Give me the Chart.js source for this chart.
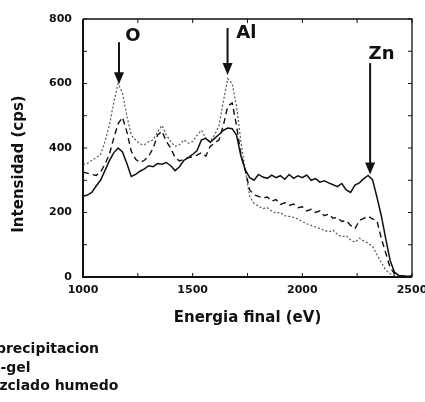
<!DOCTYPE html>
<html>
<head>
<meta charset="utf-8">
<script src="https://cdn.jsdelivr.net/npm/chart.js@4"></script>
<style>
  body { margin: 0; background: #fff; overflow: hidden; }
  #wrap { position: relative; width: 425px; height: 402px; }
  #leyenda { position: absolute; left: -58px; top: 339px; font: bold 14px 'DejaVu Sans'; line-height: 18.5px; color: #111; white-space: nowrap; }
  #leyenda span.muestra { display: inline-block; width: 28px; margin-right: 6px; vertical-align: middle; }
</style>
</head>
<body>
<div id="wrap">
  <canvas id="grafico" width="425" height="402"></canvas>
  <div id="leyenda"></div>
</div>
<script>
// energia final (eV)
const energias = [
  1000,1020,1040,1060,1080,1100,1120,1140,1160,1180,
  1200,1220,1240,1260,1280,1300,1320,1340,1360,1380,
  1400,1420,1440,1460,1480,1500,1520,1540,1560,1580,
  1600,1620,1640,1660,1680,1700,1720,1740,1760,1780,
  1800,1820,1840,1860,1880,1900,1920,1940,1960,1980,
  2000,2020,2040,2060,2080,2100,2120,2140,2160,2180,
  2200,2220,2240,2260,2280,2300,2320,2340,2360,2380,
  2400,2420,2440,2460,2480,2500
];

// intensidad (cps)
const coprecipitacion = [
  250,254,262,282,300,330,360,385,400,388,
  352,312,318,328,335,345,342,352,350,355,
  345,330,342,362,370,380,392,425,430,418,
  430,442,455,462,460,440,375,332,308,300,
  318,310,306,316,308,314,303,318,306,314,
  308,316,300,305,294,298,292,286,280,290,
  270,262,285,292,305,315,302,248,190,120,
  52,15,5,3,2,2
];
const solGel = [
  325,322,318,315,325,350,380,430,475,495,
  450,390,365,355,362,375,400,440,452,420,
  400,370,360,365,370,372,378,385,375,405,
  415,425,470,530,540,470,380,330,270,255,
  250,245,248,235,240,225,230,222,226,215,
  218,205,210,200,205,190,195,182,185,172,
  175,160,150,175,182,188,180,175,120,75,
  30,10,4,3,2,2
];
const mezcladoHumedo = [
  350,352,362,370,380,420,470,540,600,570,
  500,440,425,412,410,420,425,450,470,440,
  420,405,410,425,415,420,440,455,430,420,
  440,470,545,615,600,530,420,330,250,228,
  220,212,215,205,198,200,190,188,185,180,
  172,165,160,155,150,145,140,145,132,125,
  128,115,108,120,112,105,95,70,45,22,
  10,5,3,2,2,2
];

const ticksX = [1000, 1500, 2000, 2500];
const ticksY = [0, 200, 400, 600, 800];
const marcasMenoresX = [1000, 1250, 1500, 1750, 2000, 2250, 2500];
const marcasMenoresY = [0, 100, 200, 300, 400, 500, 600, 700, 800];

// flechas de los picos: x, y de inicio y punta, posicion de la etiqueta
const flechas = [
  { texto: 'O',  x: 1164, desde: 728, hasta: 598, tx: 1227, ty: 746 },
  { texto: 'Al', x: 1659, desde: 772, hasta: 626, tx: 1745, ty: 755 },
  { texto: 'Zn', x: 2309, desde: 663, hasta: 318, tx: 2361, ty: 691 }
];

Chart.defaults.font.family = "'DejaVu Sans', sans-serif";
Chart.defaults.font.weight = 'bold';
Chart.defaults.color = '#111';

function puntos(serie) {
  return energias.map((e, i) => ({ x: e, y: serie[i] }));
}

const marco = {
  id: 'marco',
  afterDraw(chart) {
    const { ctx, chartArea: a, scales: { x, y } } = chart;
    ctx.save();
    ctx.strokeStyle = '#111';
    // marco
    ctx.lineWidth = 1.3;
    ctx.beginPath();
    ctx.moveTo(a.left, a.top); ctx.lineTo(a.right, a.top); ctx.lineTo(a.right, a.bottom);
    ctx.stroke();
    ctx.lineWidth = 2;
    ctx.beginPath();
    ctx.moveTo(a.left, a.top); ctx.lineTo(a.left, a.bottom); ctx.lineTo(a.right, a.bottom);
    ctx.stroke();
    // marcas hacia dentro
    ctx.lineWidth = 1;
    ctx.beginPath();
    marcasMenoresY.forEach(v => {
      const py = y.getPixelForValue(v);
      ctx.moveTo(a.left, py); ctx.lineTo(a.left + 4, py);
      ctx.moveTo(a.right, py); ctx.lineTo(a.right - 4, py);
    });
    marcasMenoresX.forEach(v => {
      const px = x.getPixelForValue(v);
      ctx.moveTo(px, a.bottom); ctx.lineTo(px, a.bottom - 4);
      ctx.moveTo(px, a.top); ctx.lineTo(px, a.top + 4);
    });
    ctx.stroke();

    // flechas
    ctx.fillStyle = '#111';
    flechas.forEach(f => {
      const px = x.getPixelForValue(f.x);
      const y0 = y.getPixelForValue(f.desde);
      const y1 = y.getPixelForValue(f.hasta);
      ctx.lineWidth = 2;
      ctx.beginPath();
      ctx.moveTo(px, y0); ctx.lineTo(px, y1 - 10);
      ctx.stroke();
      ctx.beginPath();
      ctx.moveTo(px - 5, y1 - 12); ctx.lineTo(px + 5, y1 - 12); ctx.lineTo(px, y1);
      ctx.closePath();
      ctx.fill();
      ctx.font = "bold 18px 'DejaVu Sans'";
      ctx.textAlign = 'center';
      ctx.textBaseline = 'middle';
      ctx.fillText(f.texto, x.getPixelForValue(f.tx), y.getPixelForValue(f.ty));
    });

    // titulo del eje y
    ctx.font = "bold 15px 'DejaVu Sans'";
    ctx.translate(19, (a.top + a.bottom) / 2 + 16);
    ctx.rotate(-Math.PI / 2);
    ctx.textAlign = 'center';
    ctx.textBaseline = 'middle';
    ctx.fillText('Intensidad (cps)', 0, 0);
    ctx.restore();
  }
};

const grafico = new Chart(document.getElementById('grafico'), {
  type: 'line',
  data: {
    datasets: [
      { label: 'Coprecipitacion', data: puntos(coprecipitacion), borderColor: '#111', borderWidth: 1.5 },
      { label: 'Sol-gel', data: puntos(solGel), borderColor: '#111', borderWidth: 1.4, borderDash: [6, 4] },
      { label: 'Mezclado humedo', data: puntos(mezcladoHumedo), borderColor: '#555', borderWidth: 1.2, borderDash: [2, 2] }
    ]
  },
  options: {
    responsive: false,
    animation: false,
    elements: { point: { radius: 0 }, line: { tension: 0 } },
    layout: { padding: { top: 19, right: 13, left: 0, bottom: 75 } },
    plugins: { legend: { display: false }, tooltip: { enabled: false } },
    scales: {
      x: {
        type: 'linear', min: 1000, max: 2500,
        afterBuildTicks: s => { s.ticks = ticksX.map(v => ({ value: v })); },
        ticks: { padding: 7, font: { size: 11 }, maxRotation: 0, callback: v => String(v) },
        grid: { display: false, drawTicks: false },
        border: { display: false },
        title: { display: true, text: 'Energia final (eV)', font: { size: 15, weight: 'bold' }, padding: 0 },
        afterFit: s => { s.height = 50; s.paddingLeft = 0; s.paddingRight = 0; }
      },
      y: {
        min: 0, max: 800,
        afterBuildTicks: s => { s.ticks = ticksY.map(v => ({ value: v })); },
        ticks: { padding: 11, font: { size: 11 }, callback: v => String(v) },
        grid: { display: false, drawTicks: false },
        border: { display: false },
        afterFit: s => { s.width = 83; s.paddingTop = 0; s.paddingBottom = 0; }
      }
    }
  },
  plugins: [marco]
});

// leyenda, desplazada a la izquierda como en el original
const leyenda = document.getElementById('leyenda');
grafico.data.datasets.forEach(ds => {
  const fila = document.createElement('div');
  const estilo = ds.borderDash ? (ds.borderDash[0] > 3 ? 'dashed' : 'dotted') : 'solid';
  fila.innerHTML = `<span class="muestra" style="border-top:2px ${estilo} ${ds.borderColor}"></span>${ds.label}`;
  leyenda.appendChild(fila);
});
</script>
</body>
</html>
